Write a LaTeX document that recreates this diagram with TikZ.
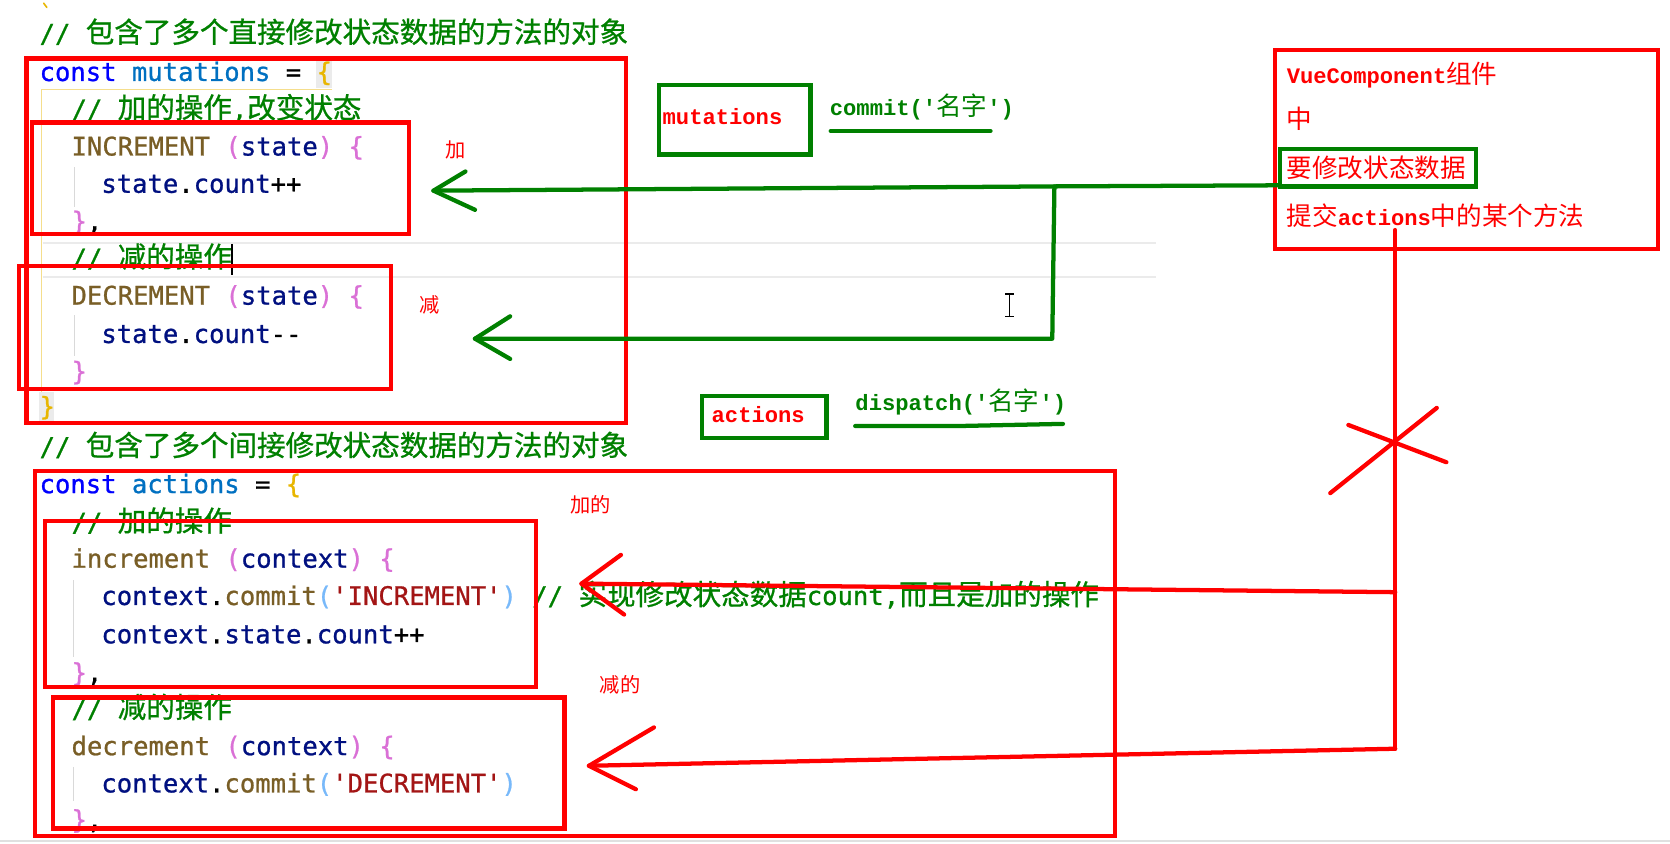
\documentclass[tikz,border=0pt]{standalone}
\usepackage{fontspec}
\usetikzlibrary{fit}
\newfontfamily\codefont{DejaVu Sans Mono}[Ligatures=TeXOff,FakeBold=0.9]
\newfontfamily\cjkfont{Noto Sans CJK SC}[Ligatures=TeXOff]
\newfontfamily\cjkcode{Noto Sans CJK SC}[Ligatures=TeXOff,FakeBold=0.8]
\newfontfamily\annfont{Liberation Mono}[Ligatures=TeXOff]
% editor colours
\definecolor{kw}{RGB}{0,0,255}
\definecolor{var}{RGB}{0,112,193}
\definecolor{fn}{RGB}{121,94,38}
\definecolor{nv}{RGB}{0,16,128}
\definecolor{pk}{RGB}{218,112,214}
\definecolor{gd}{RGB}{232,182,0}
\definecolor{lb}{RGB}{120,185,250}
\definecolor{str}{RGB}{163,21,21}
\definecolor{cmt}{RGB}{0,128,0}
% annotation colours
\definecolor{myred}{RGB}{255,0,0}
\definecolor{mygreen}{RGB}{0,128,0}
\newcommand\zh[1]{{\cjkcode\fontsize{26.8}{27}\selectfont #1}}
\newcommand\azh[1]{{\cjkfont\mdseries\fontsize{24}{25}\selectfont #1}}
\begin{document}
\begin{tikzpicture}[x=1pt,y=-1pt,
  code/.style={anchor=base west,inner sep=0pt,font=\codefont\fontsize{24}{24}\selectfont},
  ann/.style={anchor=base west,inner sep=0pt,font=\annfont\bfseries\fontsize{20.8}{21}\selectfont},
  note/.style={anchor=base west,inner sep=0pt,text=myred,font=\cjkfont\fontsize{19}{19}\selectfont},
  redbox/.style={draw=myred,line width=4pt,inner sep=0pt},
  greenbox/.style={draw=mygreen,line width=4pt,inner sep=0pt},
  redline/.style={draw=myred,line width=4pt,line cap=round,line join=round},
  greenline/.style={draw=mygreen,line width=4pt,line cap=round,line join=round},
  guide/.style={draw=black!15,line width=1pt},
  band/.style={draw=black!8,line width=2.5pt}]
\useasboundingbox (0,0) rectangle (1568,792);
\fill[white] (0,0) rectangle (1568,792);

% ---------- editor background details ----------
\draw[band] (40,228) -- (1085,228);
\draw[band] (40,260) -- (1085,260);
\draw[black!12,line width=2pt] (0,790) -- (1568,790);
\draw[gd,line width=1.5pt,line cap=round] (41,3) -- (44,7);
% bracket-match highlight
\fill[black!8] (297,56) rectangle (312,83);
\fill[black!8] (37,368) rectangle (51,395);
\draw[gd!45,line width=1.5pt] (312,84) -- (39,84) -- (39,368);
% indent guides
\draw[guide] (70,157) -- (70,194);
\draw[guide] (70,296) -- (70,334);
\draw[guide] (69,545) -- (69,617);
\draw[guide] (69,720) -- (69,752);

% ---------- mutations ----------
\node[code] (h1) at (37,40) {\color{cmt}// \zh{包含了多个直接修改状态数据的方法的对象}};
\node[code] (m1) at (37,76) {\color{kw}const \color{var}mutations \color{black}= \color{gd}\{};
\node[code] (m2) at (67,111) {\color{cmt}// \zh{加的操作},\zh{改变状态}};
\node[code] (m3) at (67,146) {\color{fn}INCREMENT \color{pk}(\color{nv}state\color{pk}) \{};
\node[code] (m4) at (95,181) {\color{nv}state\color{black}.\color{nv}count\color{black}++};
\node[code] (m5) at (67,216) {\color{pk}\}\color{black},};
\node[code] (m6) at (67,251) {\color{cmt}// \zh{减的操作}};
\node[code] (m7) at (67,286) {\color{fn}DECREMENT \color{pk}(\color{nv}state\color{pk}) \{};
\node[code] (m8) at (95,322) {\color{nv}state\color{black}.\color{nv}count\color{black}-\kern0pt-};
\node[code] (m9) at (67,357) {\color{pk}\}};
\node[code] (m10) at (37,390) {\color{gd}\}};
% text cursors
\draw[black,line width=1.5pt] (218,229) -- (218,258);
\draw[black,line width=1.2pt] (948,276) -- (948,297)
  (944,276) -- (952,276) (944,297) -- (952,297);

% ---------- actions ----------
\node[code] (h2) at (37,428) {\color{cmt}// \zh{包含了多个间接修改状态数据的方法的对象}};
\node[code] (a1) at (37,463) {\color{kw}const \color{var}actions \color{black}= \color{gd}\{};
\node[code] (a2) at (67,499) {\color{cmt}// \zh{加的操作}};
\node[code] (a3) at (67,533) {\color{fn}increment \color{pk}(\color{nv}context\color{pk}) \{};
\node[code] (a4) at (95,568) {\color{nv}context\color{black}.\color{fn}commit\color{lb}(\color{str}'INCREMENT'\color{lb}) \color{cmt}// \zh{实现修改状态数据}count,\zh{而且是加的操作}};
\node[code] (a5) at (95,604) {\color{nv}context\color{black}.\color{nv}state\color{black}.\color{nv}count\color{black}++};
\node[code] (a6) at (67,640) {\color{pk}\}\color{black},};
\node[code] (a7) at (67,674) {\color{cmt}// \zh{减的操作}};
\node[code] (a8) at (67,709) {\color{fn}decrement \color{pk}(\color{nv}context\color{pk}) \{};
\node[code] (a9) at (95,744) {\color{nv}context\color{black}.\color{fn}commit\color{lb}(\color{str}'DECREMENT'\color{lb})};
\begin{scope}
  \clip (0,0) rectangle (1568,786);
  \node[code] (a10) at (67,778) {\color{pk}\}\color{black},};
\end{scope}

% ---------- red frames ----------
\node[redbox,fit={(25,55) (588,397)}] (mbox) {};
\node[redbox,fit={(30,115) (384,220)}] (incbox) {};
\node[redbox,fit={(18,250) (367,365)}] (decbox) {};
\node[redbox,fit={(33,442) (1047,785)}] (abox) {};
\node[redbox,fit={(42,489) (503,645)}] (aincbox) {};
\node[redbox,fit={(50,655) (530,778)}] (adecbox) {};
\node[redbox,fit={(1197,47) (1557,234)}] (vbox) {};

% small red notes
\node[note] (n1) at (418,148) {加};
\node[note] (n2) at (394,293) {减};
\node[note] (n3) at (535,481) {加的};
\node[note] (n4) at (563,650) {减的};

% ---------- green labels ----------
\node[greenbox,fit={(619,80) (761,145)}] (mutbox) {};
\node[ann,text=myred] (mutlbl) at (622,117) {mutations};
\node[ann,text=mygreen] (commit) at (779,108) {commit('\azh{名字}')};
\draw[greenline] (780,123) -- (930,123);

\node[greenbox,fit={(659,372) (776,411)}] (actbox) {};
\node[ann,text=myred] (actlbl) at (668,397) {actions};
\node[ann,text=mygreen] (dispatch) at (803,385) {dispatch('\azh{名字}')};
\draw[greenline] (803,400) -- (900,400) -- (998,398);

% ---------- component box ----------
\node[ann,text=myred] (v1) at (1208,78) {VueComponent\azh{组件}};
\node[ann,text=myred] (v2) at (1208,121) {\azh{中}};
\node[ann,text=myred] (v3) at (1208,167) {\azh{要修改状态数据}};
\node[ann,text=myred] (v4) at (1208,212) {\azh{提交}actions\azh{中的某个方法}};
\node[greenbox,fit={(1202,140) (1386,175)}] (gbox) {};

% ---------- green commit arrows ----------
\coordinate (gsplit) at (990,175);
\coordinate (gtipA) at (407,179);
\coordinate (gcorner) at (988,318);
\coordinate (gtipB) at (446,318);
\draw[greenline] (gbox.south west) ++(0,-3) -- (gsplit) -- (gtipA);
\draw[greenline] (gtipA) -- ++(30,-18) (gtipA) -- ++(39,18);
\draw[greenline] (gsplit) -- (gcorner) -- (gtipB);
\draw[greenline] (gtipB) -- ++(33,-21) (gtipB) -- ++(33,19);

% ---------- red dispatch arrows ----------
\coordinate (rtop) at (1310,216);
\coordinate (rmid) at (1310,556);
\coordinate (rbot) at (1310,703);
\coordinate (rtipA) at (546,548);
\coordinate (rtipB) at (553,719);
\draw[redline] (rtop) -- (rbot);
\draw[redline] (rmid) -- (rtipA);
\draw[redline] (rtipA) -- ++(37,-27) (rtipA) -- ++(40,29);
\draw[redline] (rbot) -- (rtipB);
\draw[redline] (rtipB) -- ++(61,-36) (rtipB) -- ++(44,22);
% cross over the line
\draw[redline] (1249,463) -- (1349,383);
\draw[redline] (1266,399) -- (1358,434);
\end{tikzpicture}
\end{document}
